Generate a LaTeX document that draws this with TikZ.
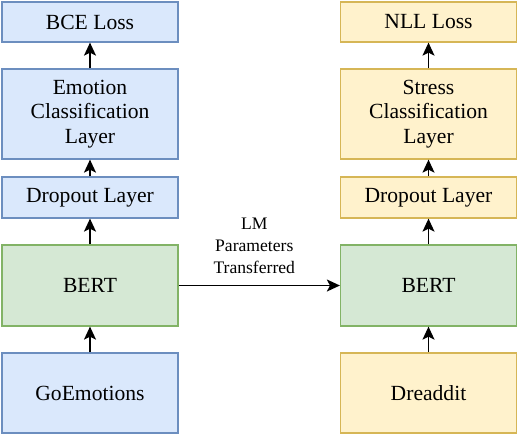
\documentclass[tikz,border=0pt]{standalone}
\usepackage{fontspec}
\setmainfont{Liberation Serif}
\usetikzlibrary{arrows.meta}

\definecolor{bluefill}{HTML}{DAE8FC}
\definecolor{blueline}{HTML}{6C8EBF}
\definecolor{greenfill}{HTML}{D5E8D4}
\definecolor{greenline}{HTML}{82B366}
\definecolor{yellowfill}{HTML}{FFF2CC}
\definecolor{yellowline}{HTML}{D6B656}

\begin{document}
\begin{tikzpicture}[x=0.5pt,y=-0.5pt,
    box/.style={draw,line width=0.6pt,minimum width=88pt,inner sep=2pt,align=center,
      font=\rmfamily\fontsize{10.8}{12.2}\selectfont},
    bluebox/.style={box,fill=bluefill,draw=blueline},
    greenbox/.style={box,fill=greenfill,draw=greenline},
    yellowbox/.style={box,fill=yellowfill,draw=yellowline},
    link/.style={-{Stealth[length=6.5pt,width=6pt,inset=1.5pt]},line width=0.75pt}]
  \useasboundingbox (0,0) rectangle (518,436);

  % source task
  \node[bluebox,minimum height=20pt] (bce) at (90,22) {BCE Loss};
  \node[bluebox,minimum height=45pt] (emoclass) at (90,114) {Emotion\\Classification\\Layer};
  \node[bluebox,minimum height=20.5pt] (dropl) at (90,197.5) {Dropout Layer};
  \node[greenbox,minimum height=40.5pt] (bertl) at (90,285.5) {BERT};
  \node[bluebox,minimum height=40pt] (goemo) at (90,393) {GoEmotions};

  % target task
  \node[yellowbox,minimum height=20pt] (nll) at (428.5,22) {NLL Loss};
  \node[yellowbox,minimum height=45pt] (stressclass) at (428.5,114) {Stress\\Classification\\Layer};
  \node[yellowbox,minimum height=20.5pt] (dropr) at (428.5,197.5) {Dropout Layer};
  \node[greenbox,minimum height=40.5pt] (bertr) at (428.5,285.5) {BERT};
  \node[yellowbox,minimum height=40pt] (dread) at (428.5,393) {Dreaddit};

  \draw[link] (goemo) -- (bertl);
  \draw[link] (bertl) -- (dropl);
  \draw[link] (dropl) -- (emoclass);
  \draw[link] (emoclass) -- (bce);

  \draw[link] (dread) -- (bertr);
  \draw[link] (bertr) -- (dropr);
  \draw[link] (dropr) -- (stressclass);
  \draw[link] (stressclass) -- (nll);

  \draw[link] (bertl) -- (bertr)
    node[midway,above=2pt,xshift=-2.5pt,align=center,font=\rmfamily\fontsize{8.8}{11.2}\selectfont] (lmlabel)
      {LM\\Parameters\\Transferred};
\end{tikzpicture}
\end{document}
